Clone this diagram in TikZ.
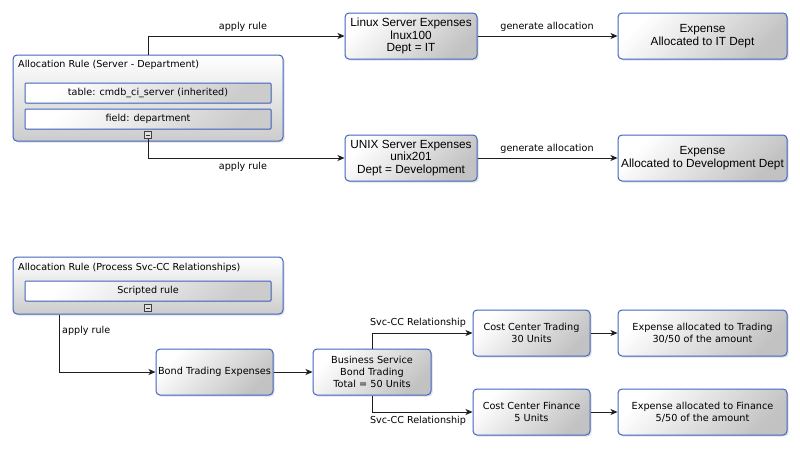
\documentclass[tikz,border=0pt]{standalone}
\usepackage{fontspec}
\setmainfont{DejaVu Sans}
\newfontfamily\arialf{Liberation Sans}
\usetikzlibrary{arrows.meta,shadows,calc}
\definecolor{bordblue}{RGB}{66,100,192}
\definecolor{linec}{RGB}{30,30,30}
\tikzset{
  box/.style={draw=bordblue, line width=1pt, rounded corners=4pt,
    top color=white, bottom color=black!24, shading angle=45,
    drop shadow={shadow xshift=1.5pt, shadow yshift=-1.5pt, opacity=0.25},
    align=center, inner sep=1pt, minimum height=46pt},
  group/.style={box, top color=white, bottom color=black!20},
  inner/.style={draw=bordblue, line width=1pt, rounded corners=1pt,
    top color=white, bottom color=black!20, shading angle=45,
    drop shadow={shadow xshift=1pt, shadow yshift=-1pt, opacity=0.2},
    minimum width=246pt, minimum height=20pt, inner sep=0pt,
    font=\fontsize{9.6}{11}\selectfont},
  topbox/.style={box, font=\arialf\fontsize{11.8}{12.8}\selectfont},
  botbox/.style={box, font=\fontsize{9.7}{11.7}\selectfont},
  lbl/.style={font=\fontsize{9.6}{11}\selectfont, inner sep=0pt},
  conn/.style={draw=linec, line width=0.8pt, -{Stealth[length=7pt,width=6pt,inset=2pt]}},
  icon/.style={draw=black!75, fill=black!12, line width=0.6pt, minimum size=7pt, inner sep=0pt,
    path picture={\draw[black!80, line width=0.8pt] ([xshift=1.5pt]path picture bounding box.west) -- ([xshift=-1.5pt]path picture bounding box.east);}}
}
\begin{document}
\begin{tikzpicture}[x=1pt,y=-1pt]
\useasboundingbox (0,0) rectangle (800,448);
% ---------- top group ----------
\node[group, minimum width=270pt, minimum height=86pt] (rule1) at (148,98) {};
\node[lbl, anchor=west] (rule1t) at (18,65) {Allocation Rule (Server - Department)};
\node[inner] (tbl) at (148,93) {table: cmdb\_ci\_server (inherited)};
\node[inner] (fld) at (148,119) {field: department};
\node[icon] (ic1) at (148,135) {};

\node[topbox, minimum width=132pt] (linux) at (411,36) {Linux Server Expenses\\lnux100\\Dept = IT};
\node[topbox, minimum width=169pt] (expit) at (702.5,36) {Expense\\Allocated to IT Dept};
\node[topbox, minimum width=132pt] (unix) at (411,158) {UNIX Server Expenses\\unix201\\Dept = Development};
\node[topbox, minimum width=169pt] (expdev) at (702.5,158) {Expense\\Allocated to Development Dept};

\draw[conn] (rule1.north) |- (linux.west);
\draw[conn] (ic1.south) |- (unix.west);
\draw[conn] (linux.east) -- (expit.west);
\draw[conn] (unix.east) -- (expdev.west);
\node[lbl] (l1) at (243,27) {apply rule};
\node[lbl] (l2) at (243,167) {apply rule};
\node[lbl] (l3) at (547,27) {generate allocation};
\node[lbl] (l4) at (547,149) {generate allocation};

% ---------- bottom group ----------
\node[group, minimum width=270pt, minimum height=57pt] (rule2) at (148,285.5) {};
\node[lbl, anchor=west] (rule2t) at (18,268) {Allocation Rule (Process Svc-CC Relationships)};
\node[inner] (scr) at (148,291) {Scripted rule};
\node[icon] (ic2) at (148,308) {};

\node[botbox, minimum width=117pt] (bond) at (214.5,372) {Bond Trading Expenses};
\node[botbox, minimum width=118pt] (bs) at (372,372) {Business Service\\Bond Trading\\Total = 50 Units};
\node[botbox, minimum width=117pt] (cct) at (531.5,333) {Cost Center Trading\\30 Units};
\node[botbox, minimum width=117pt] (ccf) at (531.5,412) {Cost Center Finance\\5 Units};
\node[botbox, minimum width=169pt] (ext) at (702.5,333) {Expense allocated to Trading\\30/50 of the amount};
\node[botbox, minimum width=169pt] (exf) at (702.5,412) {Expense allocated to Finance\\5/50 of the amount};

\coordinate (r2out) at ([xshift=-89pt]rule2.south);
\draw[conn] (r2out) |- (bond.west);
\draw[conn] (bond.east) -- (bs.west);
\draw[conn] (bs.north) |- (cct.west);
\draw[conn] (bs.south) |- (ccf.west);
\draw[conn] (cct.east) -- (ext.west);
\draw[conn] (ccf.east) -- (exf.west);
\node[lbl, anchor=west] (l5) at (62,331) {apply rule};
\node[lbl] (l6) at (418,323) {Svc-CC Relationship};
\node[lbl] (l7) at (418,421) {Svc-CC Relationship};
\end{tikzpicture}
\end{document}
